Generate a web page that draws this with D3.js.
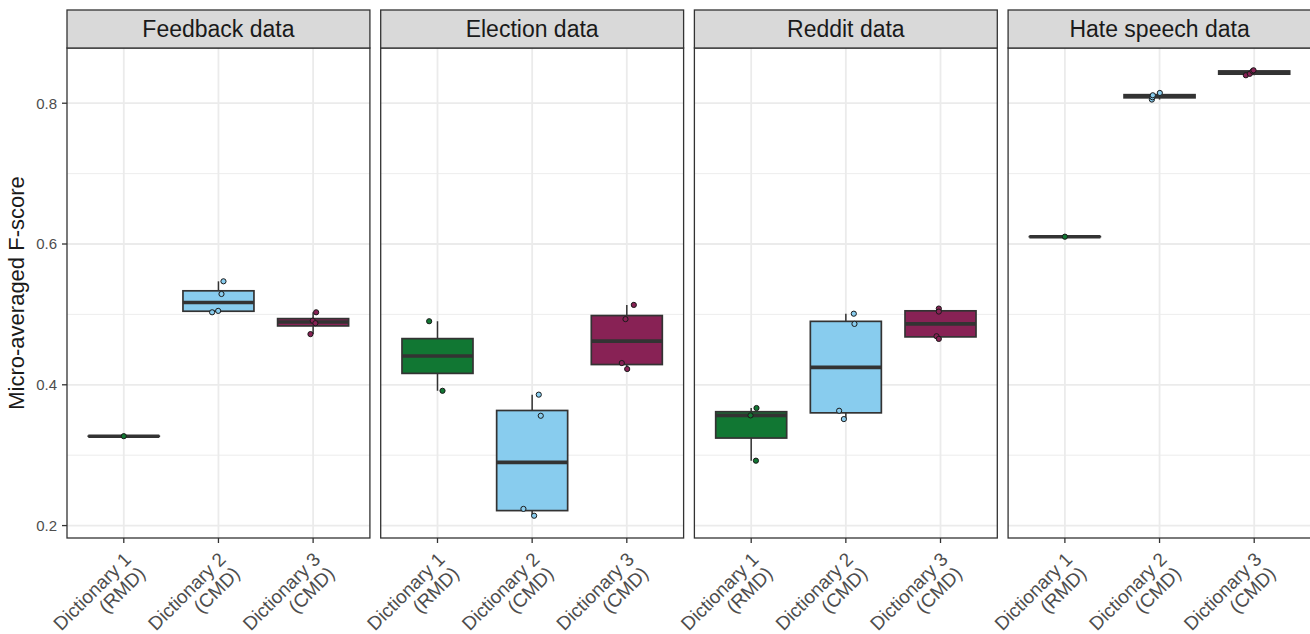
<!DOCTYPE html>
<html>
<head>
<meta charset="utf-8">
<script src="https://cdn.jsdelivr.net/npm/d3@7"></script>
<style>
  body { margin: 0; background: #fff; }
  text { font-family: "Liberation Sans", Arial, sans-serif; }
</style>
</head>
<body>
<div id="chart"></div>
<script>
// facets / categories
const facets = ["Feedback data", "Election data", "Reddit data", "Hate speech data"];
const dictionaries = ["Dictionary 1", "Dictionary 2", "Dictionary 3"];
const dictTypes = ["(RMD)", "(CMD)", "(CMD)"];
const dictColors = ["#117733", "#88CCEE", "#882255"];
const yTicks = [0.2, 0.4, 0.6, 0.8];
const yMinorTicks = [0.3, 0.5, 0.7];

// micro-averaged F-scores, one array per dictionary
const feedbackScores = [[0.327], [0.547, 0.529, 0.503, 0.505], [0.503, 0.491, 0.4875, 0.472]];
const electionScores = [[0.4903, 0.3915], [0.386, 0.356, 0.2237, 0.214], [0.5135, 0.4933, 0.4309, 0.4224]];
const redditScores = [[0.367, 0.3565, 0.2922], [0.501, 0.4865, 0.3631, 0.3513], [0.5083, 0.504, 0.469, 0.4652]];
const hateScores = [[0.6104], [0.8052, 0.8085, 0.8113, 0.8146], [0.8397, 0.8418, 0.8455, 0.8468]];

// horizontal jitter of the points (category units)
const feedbackJitter = [[0], [0.053, 0.032, -0.067, -0.003], [0.032, -0.004, 0.024, -0.028]];
const electionJitter = [[-0.088, 0.053], [0.07, 0.091, -0.092, 0.021], [0.074, -0.014, -0.053, 0.004]];
const redditJitter = [[0.056, -0.007, 0.05], [0.084, 0.091, -0.071, -0.021], [-0.018, -0.018, -0.042, -0.018]];
const hateJitter = [[0], [-0.081, -0.075, -0.071, 0.003], [-0.088, -0.046, -0.018, -0.007]];

const allScores = [feedbackScores, electionScores, redditScores, hateScores];
const allJitter = [feedbackJitter, electionJitter, redditJitter, hateJitter];

const width = 1310, height = 634;
const plotLeft = 67, plotRight = 1311;
const stripTop = 10, panelTop = 48, panelBottom = 538;

const svg = d3.select("#chart").append("svg")
  .attr("width", width)
  .attr("height", height);

// facet positions
const fx = d3.scaleBand().domain(facets).range([plotLeft, plotRight])
  .paddingInner(0.0344).paddingOuter(0);

// inner x (discrete, ggplot style expansion)
const x = d3.scalePoint().domain(dictionaries).range([0, fx.bandwidth()]).padding(0.6);
const step = x.step();
const boxW = step * 0.75;

// y with 5% expansion
const flat = allScores.flat(2);
const yMin = d3.min(flat), yMax = d3.max(flat);
const pad = (yMax - yMin) * 0.05;
const y = d3.scaleLinear().domain([yMin - pad, yMax + pad]).range([panelBottom, panelTop]);

function boxStats(v) {
  const s = v.slice().sort(d3.ascending);
  const q1 = d3.quantile(s, 0.25), med = d3.quantile(s, 0.5), q3 = d3.quantile(s, 0.75);
  const iqr = q3 - q1;
  const lo = d3.min(s.filter(d => d >= q1 - 1.5 * iqr));
  const hi = d3.max(s.filter(d => d <= q3 + 1.5 * iqr));
  return {q1, med, q3, lo, hi};
}

facets.forEach((f, fi) => {
  const g = svg.append("g").attr("transform", "translate(" + fx(f) + ",0)");
  const w = fx.bandwidth();

  // grid
  g.selectAll(".minor").data(yMinorTicks).enter().append("line")
    .attr("x1", 0).attr("x2", w)
    .attr("y1", d => y(d)).attr("y2", d => y(d))
    .attr("stroke", "#EBEBEB").attr("stroke-width", 0.9);
  g.selectAll(".major").data(yTicks).enter().append("line")
    .attr("x1", 0).attr("x2", w)
    .attr("y1", d => y(d)).attr("y2", d => y(d))
    .attr("stroke", "#EBEBEB").attr("stroke-width", 1.8);
  g.selectAll(".vgrid").data(dictionaries).enter().append("line")
    .attr("x1", d => x(d)).attr("x2", d => x(d))
    .attr("y1", panelTop).attr("y2", panelBottom)
    .attr("stroke", "#EBEBEB").attr("stroke-width", 1.8);

  // boxes
  dictionaries.forEach((dname, di) => {
    const vals = allScores[fi][di];
    const jit = allJitter[fi][di];
    const st = boxStats(vals);
    const cx = x(dname);
    const col = dictColors[di];

    g.append("line")
      .attr("x1", cx).attr("x2", cx)
      .attr("y1", y(st.q3)).attr("y2", y(st.hi))
      .attr("stroke", "#333333").attr("stroke-width", 1.5);
    g.append("line")
      .attr("x1", cx).attr("x2", cx)
      .attr("y1", y(st.q1)).attr("y2", y(st.lo))
      .attr("stroke", "#333333").attr("stroke-width", 1.5);
    g.append("rect")
      .attr("x", cx - boxW / 2).attr("width", boxW)
      .attr("y", y(st.q3)).attr("height", Math.max(0.01, y(st.q1) - y(st.q3)))
      .attr("fill", col).attr("stroke", "#333333").attr("stroke-width", 1.7);
    g.append("line")
      .attr("x1", cx - boxW / 2).attr("x2", cx + boxW / 2)
      .attr("y1", y(st.med)).attr("y2", y(st.med))
      .attr("stroke", "#333333").attr("stroke-width", 3.6);

    g.selectAll(".pt" + di).data(vals).enter().append("circle")
      .attr("cx", (d, i) => cx + jit[i] * step)
      .attr("cy", d => y(d))
      .attr("r", 2.6)
      .attr("fill", col)
      .attr("stroke", "#1a1a1a").attr("stroke-width", 1);
  });

  // panel border
  g.append("rect")
    .attr("x", 0).attr("y", panelTop).attr("width", w).attr("height", panelBottom - panelTop)
    .attr("fill", "none").attr("stroke", "#333333").attr("stroke-width", 1.3);

  // strip
  g.append("rect")
    .attr("x", 0).attr("y", stripTop).attr("width", w).attr("height", panelTop - stripTop)
    .attr("fill", "#D9D9D9").attr("stroke", "#333333").attr("stroke-width", 1.3);
  g.append("text")
    .attr("x", w / 2).attr("y", (stripTop + panelTop) / 2)
    .attr("dy", "0.36em")
    .attr("text-anchor", "middle")
    .attr("font-size", "23px")
    .attr("fill", "#1A1A1A")
    .text(f);

  // x axis
  const xa = g.append("g").attr("transform", "translate(0," + panelBottom + ")");
  xa.selectAll("line").data(dictionaries).enter().append("line")
    .attr("x1", d => x(d)).attr("x2", d => x(d))
    .attr("y1", 0).attr("y2", 5)
    .attr("stroke", "#333333").attr("stroke-width", 1.3);
  const lab = xa.selectAll(".lab").data(dictionaries).enter().append("text")
    .attr("transform", d => "translate(" + x(d) + ",0) rotate(-45)")
    .attr("text-anchor", "end")
    .attr("font-size", "19px")
    .attr("fill", "#4D4D4D");
  lab.append("tspan").attr("x", -10).attr("y", 22).text(d => d);
  lab.append("tspan").attr("x", -10).attr("y", 42).text((d, i) => dictTypes[i]);

  // y axis on first panel
  if (fi === 0) {
    const ya = g.append("g");
    ya.selectAll("line").data(yTicks).enter().append("line")
      .attr("x1", -5).attr("x2", 0)
      .attr("y1", d => y(d)).attr("y2", d => y(d))
      .attr("stroke", "#333333").attr("stroke-width", 1.3);
    ya.selectAll("text").data(yTicks).enter().append("text")
      .attr("x", -10).attr("y", d => y(d))
      .attr("dy", "0.36em")
      .attr("text-anchor", "end")
      .attr("font-size", "15px")
      .attr("fill", "#4D4D4D")
      .text(d => d3.format(".1f")(d));
  }
});

// y title
svg.append("text")
  .attr("transform", "translate(24," + (panelTop + panelBottom) / 2 + ") rotate(-90)")
  .attr("text-anchor", "middle")
  .attr("font-size", "22px")
  .attr("fill", "#1A1A1A")
  .text("Micro-averaged F-score");
</script>
</body>
</html>
